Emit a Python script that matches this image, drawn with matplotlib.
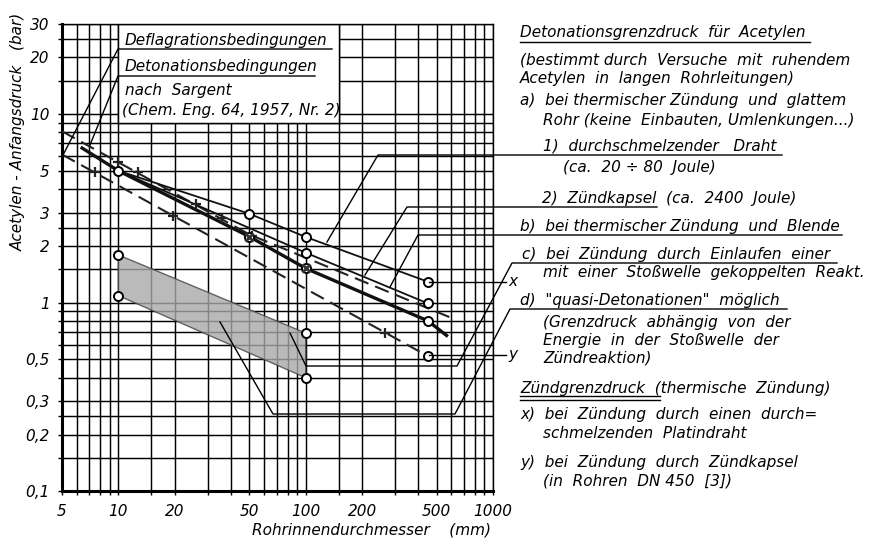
import matplotlib
matplotlib.use("Agg")
import matplotlib.pyplot as plt
from matplotlib.patches import Rectangle, Polygon
from matplotlib.lines import Line2D

W, H = 871, 541

# values: pipe inner diameter (mm) / initial pressure (bar)
# 1) durchschmelzender Draht - thin solid line with circles
draht_d = [10, 50, 100, 450]
draht_p = [5.0, 2.96, 2.23, 1.29]
# 2) Zuendkapsel - thin solid line
kapsel_d = [10, 100, 450]
kapsel_p = [5.0, 1.84, 0.99]
# b) Blende - heavy solid line
blende_d = [6.4, 10, 50, 100, 450, 565]
blende_p = [6.6, 5.0, 2.24, 1.52, 0.80, 0.67]
blende_pts_d = [50, 100, 450]
blende_pts_p = [2.24, 1.52, 0.80]
# Sargent: Deflagrationsbedingungen (lower dashed line)
defl_d = [5, 450]
defl_p = [6.1, 0.52]
defl_x_d = [7.5, 19.6, 264]
defl_x_p = [4.9, 2.88, 0.69]
# Sargent: Detonationsbedingungen (upper dashed line)
deto_d = [5, 50, 600]
deto_p = [8.1, 2.3, 0.83]
deto_x_d = [10, 12.8, 26, 35.7, 52]
deto_x_p = [5.6, 4.9, 3.35, 2.8, 2.25]
# quasi-detonation band
band_d = [10, 100, 100, 10]
band_p = [1.79, 0.69, 0.40, 1.09]

x_ticks = [5, 10, 20, 50, 100, 200, 500, 1000]
x_labels = ["5", "10", "20", "50", "100", "200", "500", "1000"]
y_ticks = [0.1, 0.2, 0.3, 0.5, 1, 2, 3, 5, 10, 20, 30]
y_labels = ["0,1", "0,2", "0,3", "0,5", "1", "2", "3", "5", "10", "20", "30"]
x_grid = [5, 6, 7, 8, 9, 10, 15, 20, 30, 40, 50, 60, 70, 80, 90, 100, 150, 200,
          300, 400, 500, 600, 700, 800, 900, 1000]
y_grid = [0.1, 0.15, 0.2, 0.25, 0.3, 0.4, 0.5, 0.6, 0.7, 0.8, 0.9, 1, 1.5, 2, 2.5,
          3, 4, 5, 6, 7, 8, 9, 10, 15, 20, 25, 30]

plt.rcParams['font.family'] = ['DejaVu Sans']
plt.rcParams['font.style'] = 'italic'

fig = plt.figure(figsize=(W / 100, H / 100), dpi=100)
ax = fig.add_axes([62 / W, 1 - 491.3 / H, 431 / W, 467.3 / H])
ax.set_xscale('log')
ax.set_yscale('log')
ax.set_xlim(5, 1000)
ax.set_ylim(0.1, 30)

ax.set_xticks(x_grid, minor=True)
ax.set_yticks(y_grid, minor=True)
ax.set_xticks(x_ticks)
ax.set_xticklabels(x_labels)
ax.set_yticks(y_ticks)
ax.set_yticklabels(y_labels)
ax.xaxis.set_minor_formatter(plt.NullFormatter())
ax.yaxis.set_minor_formatter(plt.NullFormatter())
ax.grid(which='both', color='black', lw=1.05, zorder=0)
ax.set_axisbelow(True)
ax.tick_params(which='both', direction='out', length=3, width=1, labelsize=11,
               color='black')
ax.tick_params(axis='x', pad=6)
ax.tick_params(axis='y', pad=6)
for s in ['left', 'bottom']:
    ax.spines[s].set_linewidth(2.2)
for s in ['top', 'right']:
    ax.spines[s].set_linewidth(1.0)

# white label box over the grid
ax.add_patch(Rectangle((10, 9), 140, 21, facecolor='white', edgecolor='black',
                       lw=1.05, zorder=1))

# shaded band
ax.add_patch(Polygon(list(zip(band_d, band_p)), closed=True, facecolor='#a9a9a9',
                     alpha=0.8, edgecolor='#444444', lw=1.0, zorder=2))

# lines
ax.plot(defl_d, defl_p, color='#222222', lw=1.5, dashes=(7, 3.5), zorder=3)
ax.plot(defl_x_d, defl_x_p, ls='none', marker='+', ms=7, mew=1.6, color='#222222', zorder=4)
ax.plot(deto_d, deto_p, color='#222222', lw=1.5, dashes=(7, 3.5), zorder=3)
ax.plot(deto_x_d, deto_x_p, ls='none', marker='+', ms=7, mew=1.6, color='#222222', zorder=4)
ax.plot(draht_d, draht_p, color='#111111', lw=1.3, zorder=3)
ax.plot(kapsel_d, kapsel_p, color='#111111', lw=1.3, zorder=3)
ax.plot(blende_d, blende_p, color='#111111', lw=2.4, zorder=3)

circ = dict(ls='none', marker='o', ms=6.5, mfc='white', mec='black', mew=1.4, zorder=5)
ax.plot(draht_d, draht_p, **circ)
ax.plot(kapsel_d[1:], kapsel_p[1:], **circ)
ax.plot(blende_pts_d, blende_pts_p, **circ)
ax.plot(blende_pts_d[:2], blende_pts_p[:2], ls='none', marker='x', ms=6, mew=2,
        color='#333333', zorder=6)
ax.plot(defl_d[1:], defl_p[1:], **circ)
ax.plot([band_d[0], band_d[3], band_d[1], band_d[2]],
        [band_p[0], band_p[3], band_p[1], band_p[2]], **circ)


def fx(x):
    return x / W


def fy(y):
    return 1 - y / H


def leader(pts, lw=1.0):
    fig.add_artist(Line2D([fx(p[0]) for p in pts], [fy(p[1]) for p in pts],
                          color='black', lw=lw, transform=fig.transFigure,
                          clip_on=False, zorder=10))


def txt(x, y, s, size=11):
    fig.text(fx(x), fy(y), s, ha='left', va='center', fontsize=size, style='italic')


# left label box
txt(125, 40, "Deflagrationsbedingungen")
txt(125, 66, "Detonationsbedingungen")
txt(125, 90, "nach  Sargent")
txt(122, 111, "(Chem. Eng. 64, 1957, Nr. 2)")
leader([(332, 49), (118, 49), (63, 155)])
leader([(315, 76), (118, 76), (90, 145)])

# right text column
txt(520, 33, "Detonationsgrenzdruck  für  Acetylen")
leader([(520, 42), (810, 42)])
txt(520, 60, "(bestimmt durch  Versuche  mit  ruhendem")
txt(520, 79, "Acetylen  in  langen  Rohrleitungen)")
txt(520, 101, "a)  bei thermischer Zündung  und  glattem")
txt(543, 120, "Rohr (keine  Einbauten, Umlenkungen...)")
txt(543, 146, "1)  durchschmelzender   Draht")
txt(563, 168, "(ca.  20 ÷ 80  Joule)")
txt(542, 198, "2)  Zündkapsel  (ca.  2400  Joule)")
txt(520, 226, "b)  bei thermischer Zündung  und  Blende")
txt(522, 255, "c)  bei  Zündung  durch  Einlaufen  einer")
txt(543, 273, "mit  einer  Stoßwelle  gekoppelten  Reakt.")
txt(520, 301, "d)  \"quasi-Detonationen\"  möglich")
txt(543, 323, "(Grenzdruck  abhängig  von  der")
txt(543, 341, "Energie  in  der  Stoßwelle  der")
txt(543, 358, "Zündreaktion)")
txt(520, 388, "Zündgrenzdruck  (thermische  Zündung)")
leader([(520, 396), (660, 396)])
leader([(520, 399.5), (660, 399.5)])
txt(520, 415, "x)  bei  Zündung  durch  einen  durch=")
txt(543, 433, "schmelzenden  Platindraht")
txt(520, 462, "y)  bei  Zündung  durch  Zündkapsel")
txt(543, 481, "(in  Rohren  DN 450  [3])")

leader([(782, 155), (378, 155), (327, 242)])
leader([(657, 207), (407, 207), (365, 275)])
leader([(842, 235), (418, 235), (390, 287)])
leader([(837, 263), (512, 263), (457, 366), (306, 366), (290, 333)])
leader([(787, 309), (510, 309), (455, 414), (273, 414), (220, 322)])
leader([(429, 282), (506, 282)])
leader([(429, 355), (506, 355)])
txt(508, 282, "x", size=11)
txt(508, 355, "y", size=11)

# axis titles
fig.text(fx(18), fy(132), "Acetylen - Anfangsdruck   (bar)", rotation=90,
         ha='center', va='center', fontsize=11, style='italic')
fig.text(fx(372), fy(530), "Rohrinnendurchmesser    (mm)", ha='center',
         va='center', fontsize=11, style='italic')

fig.savefig("out.png", dpi=100)
